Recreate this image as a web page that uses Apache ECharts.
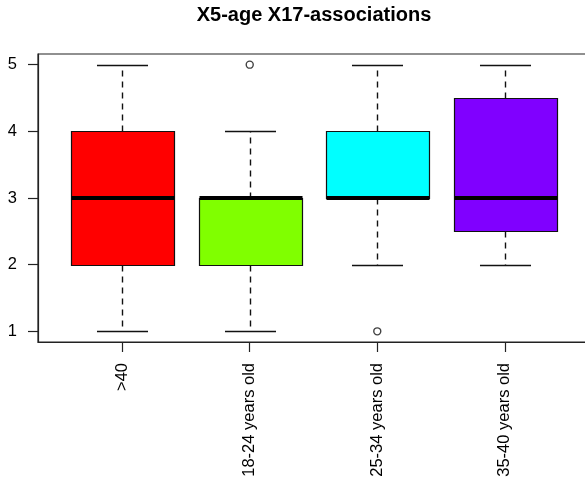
<!DOCTYPE html>
<html>
<head>
<meta charset="utf-8">
<style>
  html, body { margin: 0; padding: 0; background: #ffffff; overflow: hidden; }
  #chart { width: 585px; height: 483px; }
</style>
<script src="https://cdn.jsdelivr.net/npm/echarts@6/dist/echarts.min.js"></script>
</head>
<body>
<div id="chart"></div>
<script>
// Five-number summaries per age group
const categories = ['>40', '18-24 years old', '25-34 years old', '35-40 years old'];
const whiskerLow = [1, 1, 2, 2];
const lowerQuartile = [2, 2, 3, 2.5];
const medians = [3, 3, 3, 3];
const upperQuartile = [4, 3, 4, 4.5];
const whiskerHigh = [5, 4, 5, 5];
// Outlying points: [group position, value]
const outliers = [[2, 5], [3, 1]];
const boxColors = ['#FF0000', '#80FF00', '#00FFFF', '#8000FF'];
const yTicks = [1, 2, 3, 4, 5];
const xTicks = [1, 2, 3, 4];

const FONT = '"Liberation Sans", Arial, Helvetica, sans-serif';
const INK = '#111';

const boxData = categories.map((c, i) => [
  i + 1, whiskerLow[i], lowerQuartile[i], medians[i], upperQuartile[i], whiskerHigh[i]
]);

const crisp = v => Math.round(v) + 0.5;

function renderBox(params, api) {
  const x = api.value(0);
  const pLow = api.coord([x, api.value(1)]);
  const pQ1 = api.coord([x, api.value(2)]);
  const pMed = api.coord([x, api.value(3)]);
  const pQ3 = api.coord([x, api.value(4)]);
  const pHigh = api.coord([x, api.value(5)]);
  const boxW = api.size([0.8, 0])[0];
  const capW = boxW / 2;
  const cx = crisp(pMed[0]);
  const color = boxColors[params.dataIndex];

  const dashed = { stroke: INK, lineWidth: 1.4, lineDash: [6, 5] };
  const solid = { stroke: INK, lineWidth: 1.4 };

  const left = crisp(cx - boxW / 2);
  const right = crisp(cx + boxW / 2);
  const top = crisp(pQ3[1]);
  const bottom = crisp(pQ1[1]);

  return {
    type: 'group',
    children: [
      { type: 'line', shape: { x1: cx, y1: crisp(pQ1[1]), x2: cx, y2: crisp(pLow[1]) }, style: dashed },
      { type: 'line', shape: { x1: cx, y1: crisp(pQ3[1]), x2: cx, y2: crisp(pHigh[1]) }, style: dashed },
      { type: 'line', shape: { x1: cx - capW / 2, y1: crisp(pLow[1]), x2: cx + capW / 2, y2: crisp(pLow[1]) }, style: solid },
      { type: 'line', shape: { x1: cx - capW / 2, y1: crisp(pHigh[1]), x2: cx + capW / 2, y2: crisp(pHigh[1]) }, style: solid },
      { type: 'rect', shape: { x: left, y: top, width: right - left, height: bottom - top },
        style: { fill: color, stroke: INK, lineWidth: 1.2 } },
      { type: 'line', shape: { x1: left, y1: pMed[1], x2: right, y2: pMed[1] },
        style: { stroke: '#000', lineWidth: 4 } }
    ]
  };
}

const chart = echarts.init(document.getElementById('chart'), null, { renderer: 'canvas' });

chart.setOption({
  backgroundColor: '#ffffff',
  animation: false,
  graphic: [{
    type: 'text',
    x: 314,
    y: 15,
    style: {
      text: 'X5-age X17-associations',
      font: 'bold 20px ' + FONT,
      fill: '#000',
      align: 'center',
      verticalAlign: 'middle'
    }
  }],
  grid: {
    left: 38,
    top: 54,
    width: 551,
    height: 288,
    outerBoundsMode: 'none',
    containLabel: false,
    show: true,
    borderColor: '#222',
    borderWidth: 1.2,
    backgroundColor: 'transparent'
  },
  xAxis: {
    type: 'value',
    min: 0.34,
    max: 4.66,
    splitLine: { show: false },
    axisLine: { show: true, lineStyle: { color: '#222', width: 1.2 } },
    axisTick: { show: true, customValues: xTicks, length: 10, lineStyle: { color: '#222', width: 1.2 } },
    axisLabel: {
      customValues: xTicks,
      formatter: v => categories[Math.round(v) - 1],
      rotate: 90,
      margin: 21,
      fontSize: 16.5,
      fontFamily: FONT,
      color: '#000'
    }
  },
  yAxis: {
    type: 'value',
    min: 0.84,
    max: 5.16,
    splitLine: { show: false },
    axisLine: { show: true, lineStyle: { color: '#222', width: 1.2 } },
    axisTick: { show: true, customValues: yTicks, length: 10, lineStyle: { color: '#222', width: 1.2 } },
    axisLabel: {
      customValues: yTicks,
      margin: 21,
      fontSize: 16.5,
      fontFamily: FONT,
      color: '#000'
    }
  },
  series: [
    {
      type: 'custom',
      renderItem: renderBox,
      encode: { x: 0, y: [1, 2, 3, 4, 5] },
      data: boxData,
      z: 2
    },
    {
      type: 'scatter',
      data: outliers,
      symbol: 'circle',
      symbolSize: 7,
      itemStyle: { color: '#ffffff', borderColor: INK, borderWidth: 1.4 },
      z: 3
    }
  ]
});
</script>
</body>
</html>
